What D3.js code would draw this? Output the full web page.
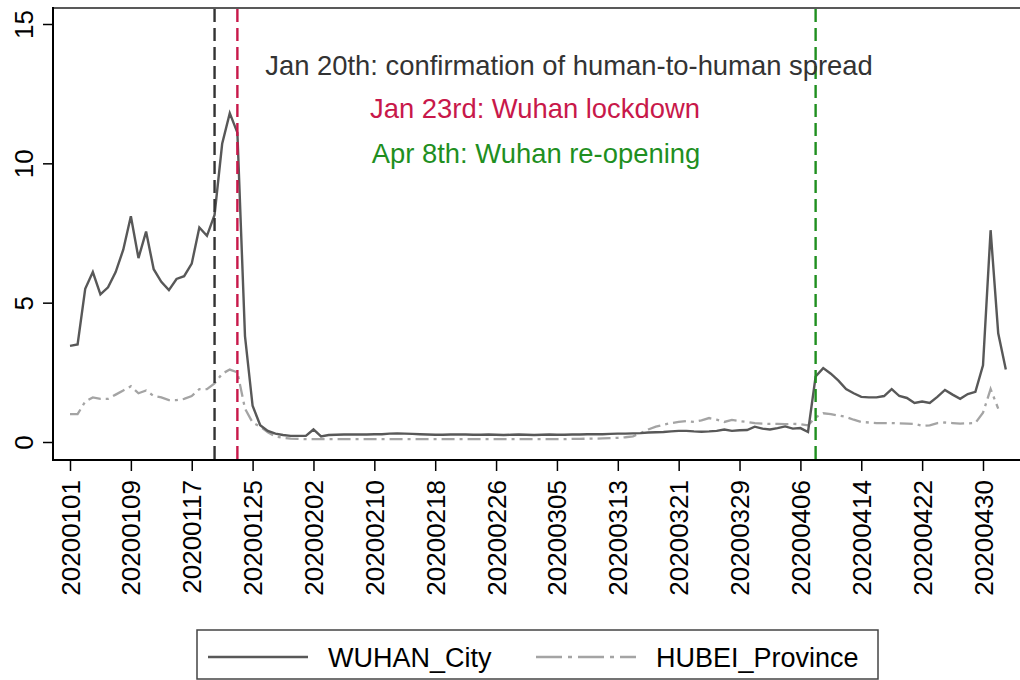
<!DOCTYPE html>
<html>
<head>
<meta charset="utf-8">
<script src="https://cdn.jsdelivr.net/npm/d3@7"></script>
<style>
  body { margin: 0; background: #fff; }
  text { font-family: "Liberation Sans", Arial, sans-serif; }
</style>
</head>
<body>
<div id="chart"></div>
<script>
// Daily series, one value per day starting 2020-01-01
var startDay = "20200101";
var wuhanCity = [
  3.45, 3.5, 5.5, 6.1, 5.3, 5.55, 6.1, 6.9, 8.1, 6.6,
  7.55, 6.2, 5.75, 5.45, 5.85, 5.95, 6.4, 7.7, 7.4, 8.15,
  10.7, 11.8, 11.1, 3.8, 1.3, 0.6, 0.4, 0.3, 0.25, 0.22,
  0.22, 0.22, 0.45, 0.2, 0.25, 0.26, 0.27, 0.27, 0.27, 0.27,
  0.28, 0.28, 0.3, 0.31, 0.3, 0.29, 0.28, 0.27, 0.26, 0.26,
  0.27, 0.27, 0.27, 0.26, 0.26, 0.27, 0.26, 0.25, 0.26, 0.27,
  0.26, 0.25, 0.26, 0.27, 0.26, 0.26, 0.27, 0.27, 0.28, 0.28,
  0.28, 0.29, 0.3, 0.3, 0.31, 0.32, 0.34, 0.35, 0.36, 0.38,
  0.4, 0.4, 0.38, 0.37, 0.38, 0.4, 0.45, 0.4, 0.42, 0.43,
  0.55, 0.48, 0.45, 0.5, 0.56, 0.48, 0.5, 0.36, 2.35, 2.65,
  2.45, 2.2, 1.9, 1.75, 1.62, 1.6, 1.6, 1.65, 1.9, 1.65,
  1.58, 1.4, 1.45, 1.4, 1.62, 1.87, 1.7, 1.55, 1.72, 1.8,
  2.75, 7.6, 3.9, 2.6
];
var hubeiProvince = [
  1.0, 1.0, 1.45, 1.6, 1.55, 1.55, 1.7, 1.85, 2.0, 1.75,
  1.85, 1.65, 1.6, 1.5, 1.5, 1.55, 1.65, 1.9, 1.9, 2.1,
  2.45, 2.6, 2.5, 1.2, 0.7, 0.55, 0.35, 0.2, 0.15, 0.12,
  0.11, 0.1, 0.1, 0.1, 0.1, 0.1, 0.1, 0.1, 0.1, 0.1,
  0.1, 0.1, 0.1, 0.1, 0.1, 0.1, 0.1, 0.1, 0.1, 0.1,
  0.1, 0.1, 0.1, 0.1, 0.1, 0.1, 0.1, 0.1, 0.1, 0.1,
  0.1, 0.1, 0.1, 0.1, 0.1, 0.1, 0.11, 0.11, 0.12, 0.12,
  0.13, 0.14, 0.15, 0.17, 0.2, 0.32, 0.45, 0.55, 0.62, 0.68,
  0.72, 0.75, 0.72, 0.78, 0.86, 0.8, 0.72, 0.79, 0.75, 0.72,
  0.68, 0.66, 0.65, 0.65, 0.64, 0.65, 0.64, 0.6, 0.88, 1.03,
  1.0, 0.95, 0.9, 0.8, 0.72, 0.7, 0.68, 0.68, 0.68, 0.67,
  0.66, 0.65, 0.58, 0.6, 0.68, 0.7, 0.68, 0.66, 0.67, 0.68,
  1.05, 1.9, 1.2
];

// Axis ticks and event markers
var xTicks = ["20200101", "20200109", "20200117", "20200125", "20200202", "20200210",
  "20200218", "20200226", "20200305", "20200313", "20200321", "20200329",
  "20200406", "20200414", "20200422", "20200430"];
var yTicks = [0, 5, 10, 15];
var events = [
  { day: "20200120", label: "Jan 20th: confirmation of human-to-human spread", color: "#333333" },
  { day: "20200123", label: "Jan 23rd: Wuhan lockdown", color: "#c8184a" },
  { day: "20200408", label: "Apr 8th: Wuhan re-opening", color: "#1f8f1f" }
];
var seriesNames = ["WUHAN_City", "HUBEI_Province"];

var W = 1020, H = 680;
var parse = d3.utcParse("%Y%m%d");
var fmt = d3.utcFormat("%Y%m%d");
var t0 = parse(startDay);

// date for day i
function dayOf(i) { return d3.utcDay.offset(t0, i); }

var x = d3.scaleUtc()
  .domain([parse("20200101"), parse("20200430")])
  .range([70, 983]);
var y = d3.scaleLinear()
  .domain([0, 15])
  .range([442, 24]);

var svg = d3.select("#chart")
  .append("svg")
  .attr("width", W)
  .attr("height", H);

// plot frame: grey top line, axes drawn below
svg.append("line")
  .attr("x1", 53).attr("x2", W)
  .attr("y1", 8).attr("y2", 8)
  .attr("stroke", "#595959").attr("stroke-width", 2);

// Y axis
var yAxis = svg.append("g")
  .attr("transform", "translate(53,0)")
  .call(d3.axisLeft(y).tickValues(yTicks).tickSize(10).tickPadding(6).tickSizeOuter(0));
yAxis.select(".domain").remove();
yAxis.append("line")
  .attr("x1", 0).attr("x2", 0).attr("y1", 7).attr("y2", 461)
  .attr("stroke", "#000").attr("stroke-width", 2);
yAxis.selectAll(".tick line").attr("stroke", "#000").attr("stroke-width", 1.5);
yAxis.selectAll(".tick text")
  .attr("font-size", 26)
  .attr("fill", "#000")
  .attr("text-anchor", "middle")
  .attr("x", null).attr("dy", null)
  .attr("transform", "translate(-20,0) rotate(-90)");

// X axis
var xAxis = svg.append("g")
  .attr("transform", "translate(0,460)")
  .call(d3.axisBottom(x)
    .tickValues(xTicks.map(parse))
    .tickFormat(fmt)
    .tickSize(11)
    .tickSizeOuter(0));
xAxis.select(".domain").remove();
xAxis.append("line")
  .attr("x1", 52).attr("x2", W).attr("y1", 0).attr("y2", 0)
  .attr("stroke", "#000").attr("stroke-width", 2);
xAxis.selectAll(".tick line").attr("stroke", "#000").attr("stroke-width", 1.5);
xAxis.selectAll(".tick text")
  .attr("font-size", 26)
  .attr("fill", "#000")
  .attr("text-anchor", "end")
  .attr("y", null).attr("dy", null)
  .attr("transform", "translate(9,20) rotate(-90)");

// clip to plot area
svg.append("clipPath").attr("id", "plot")
  .append("rect").attr("x", 54).attr("y", 9).attr("width", W - 54).attr("height", 450);

var plot = svg.append("g").attr("clip-path", "url(#plot)");

var line = d3.line()
  .x(function (d, i) { return x(dayOf(i)); })
  .y(function (d) { return y(d); });

// HUBEI dash-dot, light grey
plot.append("path")
  .datum(hubeiProvince)
  .attr("d", line)
  .attr("fill", "none")
  .attr("stroke", "#a4a4a4")
  .attr("stroke-width", 2.3)
  .attr("stroke-dasharray", "13,5,3,5");

// WUHAN solid, dark grey
plot.append("path")
  .datum(wuhanCity)
  .attr("d", line)
  .attr("fill", "none")
  .attr("stroke", "#585858")
  .attr("stroke-width", 2.4);

// event lines
plot.selectAll(".evt")
  .data(events)
  .enter()
  .append("line")
  .attr("x1", function (d) { return x(parse(d.day)); })
  .attr("x2", function (d) { return x(parse(d.day)); })
  .attr("y1", 9).attr("y2", 459)
  .attr("stroke", function (d) { return d.color; })
  .attr("stroke-width", 2.4)
  .attr("stroke-dasharray", "13,6");

// event annotations
var notePos = [[569, 75], [535, 118], [536, 163]];
svg.selectAll(".note")
  .data(events)
  .enter()
  .append("text")
  .attr("x", function (d, i) { return notePos[i][0]; })
  .attr("y", function (d, i) { return notePos[i][1]; })
  .attr("text-anchor", "middle")
  .attr("font-size", 27.4)
  .attr("fill", function (d) { return d.color; })
  .text(function (d) { return d.label; });

// legend
var lg = svg.append("g");
lg.append("rect")
  .attr("x", 197).attr("y", 630)
  .attr("width", 681).attr("height", 49)
  .attr("fill", "#fff")
  .attr("stroke", "#444").attr("stroke-width", 1.5);
var legendItems = [
  { name: seriesNames[0], x: 208, stroke: "#585858", dash: null },
  { name: seriesNames[1], x: 536, stroke: "#a4a4a4", dash: "26,6,4,6" }
];
legendItems.forEach(function (d) {
  lg.append("line")
    .attr("x1", d.x).attr("x2", d.x + 100)
    .attr("y1", 657).attr("y2", 657)
    .attr("stroke", d.stroke).attr("stroke-width", 2.4)
    .attr("stroke-dasharray", d.dash);
  lg.append("text")
    .attr("x", d.x + 120).attr("y", 667)
    .attr("font-size", 27)
    .attr("fill", "#000")
    .text(d.name);
});
</script>
</body>
</html>
